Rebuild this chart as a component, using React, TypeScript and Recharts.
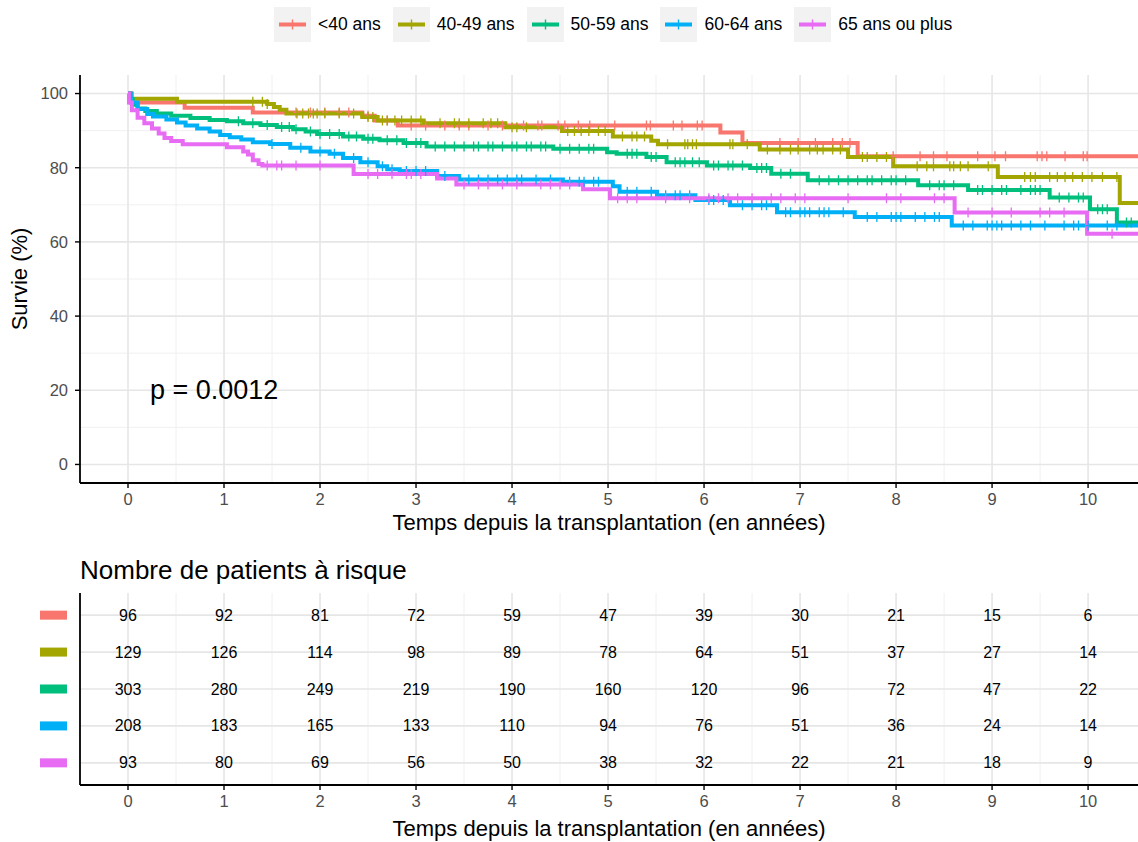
import React from 'react';
import { ComposedChart, Line, Scatter, XAxis, YAxis, ReferenceLine } from 'recharts';

const FONT = '"Liberation Sans", Arial, Helvetica, sans-serif';

const groups = ['<40 ans', '40-49 ans', '50-59 ans', '60-64 ans', '65 ans ou plus'];
const colors = ['#F8766D', '#A3A500', '#00BF7D', '#00B0F6', '#E76BF3'];

const X_MIN = -0.5;
const END_T = 10.52;

// Kaplan-Meier steps [time (years), survival %]
const stepsLt40: number[][] = [
  [0, 100], [0.04, 97.6], [0.59, 96.2], [1.3, 94.9], [2.44, 94], [2.57, 92.7], [2.81, 91.4],
  [6.17, 89.5], [6.4, 86.7], [7.6, 83.1],
];
const steps4049: number[][] = [
  [0, 100], [0.03, 98.6], [0.51, 97.8], [1.45, 97.2], [1.52, 96.4], [1.58, 95.6], [1.65, 94.6],
  [2.44, 93.7], [2.6, 92.7], [3.08, 92], [3.93, 90.9], [4.52, 89.9], [5.05, 88.4], [5.45, 87.3],
  [5.52, 86.3], [6.58, 84.9], [7.5, 82.9], [7.97, 80.4], [9.06, 77.5], [10.33, 70.5],
];
const steps5059: number[][] = [
  [0, 100], [0.02, 98.5], [0.05, 97], [0.1, 96], [0.18, 95.3], [0.3, 94.6], [0.45, 94], [0.65, 93.4],
  [0.85, 92.9], [1.03, 92.5], [1.2, 92], [1.38, 91.5], [1.55, 91], [1.72, 90.4], [1.85, 89.8],
  [1.97, 89.1], [2.24, 88.4], [2.45, 87.8], [2.62, 87.4], [2.87, 86.7], [3.11, 85.7], [4.43, 85.1],
  [4.99, 84.2], [5.09, 83.8], [5.4, 82.9], [5.61, 81.5], [6.03, 80.6], [6.48, 79.9], [6.7, 78.4],
  [7.08, 76.6], [8.23, 75.3], [8.75, 74], [9.6, 72], [10.02, 68.8], [10.3, 65.2],
];
const steps6064: number[][] = [
  [0, 100], [0.03, 97.6], [0.1, 95.8], [0.2, 94.5], [0.26, 93.8], [0.4, 93], [0.51, 92.2],
  [0.6, 91.4], [0.72, 90.6], [0.85, 89.8], [0.96, 88.8], [1.06, 88.2], [1.18, 87.6], [1.3, 86.9],
  [1.48, 86.4], [1.69, 85.4], [1.9, 84.4], [2.1, 83.8], [2.24, 82.6], [2.42, 81.5], [2.6, 80.4],
  [2.7, 79.6], [2.83, 79.1], [3.22, 77.8], [3.45, 76.8], [4.53, 76.2], [5.05, 75], [5.12, 73.5],
  [5.51, 72.6], [5.91, 71.3], [6.27, 69.9], [6.76, 68], [7.57, 66.7], [8.58, 64.4],
];
const steps65: number[][] = [
  [0, 100], [0.01, 97.6], [0.04, 95.5], [0.1, 93.5], [0.17, 92], [0.25, 90.6], [0.32, 89.2],
  [0.38, 88], [0.45, 87.2], [0.57, 86.3], [1.03, 85.5], [1.2, 84.4], [1.25, 83.6], [1.3, 82],
  [1.36, 81], [1.4, 80.6], [2.35, 78.3], [3.22, 77.1], [3.42, 75.5], [4.74, 74.2], [5.02, 71.8],
  [8.61, 67.9], [9.99, 62.2],
];

// censoring times (years)
const censorLt40 = [
  1.75, 1.9, 2.05, 2.2, 2.3, 2.5, 2.7, 2.95, 3.1, 3.3, 3.45, 3.55, 3.75, 3.9, 4.12, 4.27, 4.31, 4.48,
  4.55, 4.69, 4.81, 5.07, 5.4, 5.44, 5.68, 5.77, 5.93, 5.98, 6.79, 6.98, 7.16, 7.34, 7.44, 7.52, 7.97,
  8.25, 8.39, 8.53, 8.85, 9.03, 9.14, 9.47, 9.52, 9.57, 9.76, 9.95, 9.99,
];
const censor4049 = [
  1.3, 1.4, 1.45, 1.76, 1.82, 1.88, 1.93, 1.97, 2.05, 2.2, 2.35, 2.5, 2.55, 2.65, 2.7, 2.78, 2.85,
  2.95, 3.05, 3.25, 3.4, 3.45, 3.55, 3.7, 3.78, 3.85, 4.0, 4.05, 4.15, 4.58, 4.65, 4.72, 4.8, 4.9,
  4.97, 5.15, 5.25, 5.3, 5.38, 5.62, 5.8, 5.83, 5.88, 5.92, 6.27, 6.3, 6.45, 6.66, 6.79, 6.9, 6.98,
  7.1, 7.18, 7.24, 7.34, 7.42, 7.65, 7.7, 7.8, 7.9, 8.22, 8.32, 8.39, 8.56, 8.6, 8.67, 8.75, 8.96,
  9.34, 9.4, 9.45, 9.6, 9.68, 9.76, 9.84, 9.94, 10.04, 10.15, 10.3,
];
const censor5059 = [
  1.15, 1.3, 1.45, 1.6, 1.68, 1.75, 1.9, 2.0, 2.1, 2.2, 2.3, 2.38, 2.5, 2.55, 2.7, 2.8, 2.9, 3.0,
  3.05, 3.2, 3.3, 3.4, 3.5, 3.6, 3.65, 3.75, 3.8, 3.9, 4.0, 4.05, 4.15, 4.2, 4.3, 4.35, 4.5, 4.6,
  4.7, 4.8, 4.85, 5.2, 5.25, 5.3, 5.45, 5.5, 5.7, 5.75, 5.8, 5.88, 5.95, 6.1, 6.15, 6.25, 6.3, 6.4,
  6.55, 6.6, 6.65, 6.8, 6.9, 7.2, 7.3, 7.4, 7.5, 7.6, 7.7, 7.75, 7.85, 7.95, 8.0, 8.1, 8.35, 8.45,
  8.5, 8.6, 8.85, 8.9, 9.0, 9.1, 9.15, 9.3, 9.4, 9.45, 9.5, 9.7, 9.8, 9.9, 9.95, 10.1, 10.15, 10.2,
  10.4, 10.45,
];
const censor6064 = [
  1.5, 1.8, 2.0, 2.15, 2.35, 2.5, 2.65, 2.75, 2.9, 3.0, 3.1, 3.3, 3.55, 3.65, 3.75, 3.85, 3.95, 4.05,
  4.1, 4.25, 4.4, 4.6, 4.7, 4.75, 4.85, 4.9, 5.2, 5.3, 5.45, 5.6, 5.7, 5.75, 5.85, 6.05, 6.1, 6.2,
  6.4, 6.5, 6.6, 6.65, 6.85, 6.9, 7.0, 7.05, 7.1, 7.2, 7.25, 7.3, 7.45, 7.7, 7.8, 7.95, 8.0, 8.05,
  8.2, 8.3, 8.4, 8.45, 8.7, 8.8, 8.95, 9.0, 9.05, 9.1, 9.2, 9.3, 9.4, 9.55, 9.75, 9.85, 9.9, 10.0,
  10.2, 10.3,
];
const censor65 = [
  1.45, 1.55, 1.6, 1.75, 2.0, 2.5, 2.6, 2.75, 2.9, 2.95, 3.05, 3.5, 3.65, 3.75, 3.9, 4.05, 4.3, 4.4,
  4.5, 4.6, 5.1, 5.2, 5.3, 5.6, 5.85, 6.05, 6.15, 6.25, 6.35, 6.5, 6.7, 6.8, 6.95, 7.05, 7.5, 7.9,
  8.05, 8.4, 8.5, 8.75, 9.0, 9.2, 9.5, 9.6, 9.75, 10.25,
];

// numbers at risk
const riskTimes = [0, 1, 2, 3, 4, 5, 6, 7, 8, 9, 10];
const riskLt40 = [96, 92, 81, 72, 59, 47, 39, 30, 21, 15, 6];
const risk4049 = [129, 126, 114, 98, 89, 78, 64, 51, 37, 27, 14];
const risk5059 = [303, 280, 249, 219, 190, 160, 120, 96, 72, 47, 22];
const risk6064 = [208, 183, 165, 133, 110, 94, 76, 51, 36, 24, 14];
const risk65 = [93, 80, 69, 56, 50, 38, 32, 22, 21, 18, 9];

const xTicks = [0, 1, 2, 3, 4, 5, 6, 7, 8, 9, 10];
const xMinor = [0.5, 1.5, 2.5, 3.5, 4.5, 5.5, 6.5, 7.5, 8.5, 9.5];
const yTicks = [0, 20, 40, 60, 80, 100];
const yMinor = [10, 30, 50, 70, 90];
const riskRows = [1, 2, 3, 4, 5];

const allSteps = [stepsLt40, steps4049, steps5059, steps6064, steps65];
const allCensor = [censorLt40, censor4049, censor5059, censor6064, censor65];
const allRisk = [riskLt40, risk4049, risk5059, risk6064, risk65];

const survAt = (steps: number[][], t: number) => {
  let s = steps[0][1];
  for (const [tt, ss] of steps) {
    if (tt <= t) s = ss;
  }
  return s;
};

const lineData = allSteps.map((steps) => {
  const pts = steps.map(([t, s]) => ({ t, s }));
  pts.push({ t: END_T, s: steps[steps.length - 1][1] });
  return pts;
});
const censorData = allCensor.map((times, i) => times.map((t) => ({ t, s: survAt(allSteps[i], t) })));
const riskData = allRisk.map((vals, i) => riskTimes.map((t, j) => ({ t, row: 5 - i, n: vals[j] })));

const MAJOR = '#E6E6E6';
const MINOR = '#F0F0F0';
const TICK_STYLE = { fill: '#4D4D4D', fontSize: 16.5, fontFamily: FONT };

const makeCensor = (color: string) => (props: any) => {
  const { cx, cy } = props;
  if (cx == null || cy == null) return <g />;
  return (
    <path
      d={`M${cx},${cy - 5}V${cy + 5}M${cx - 2.5},${cy}H${cx + 2.5}`}
      stroke={color}
      strokeWidth={1.3}
      fill="none"
    />
  );
};

const riskText = (props: any) => {
  const { cx, cy, payload } = props;
  if (cx == null || cy == null) return <g />;
  return (
    <text x={cx} y={cy} textAnchor="middle" dominantBaseline="central" fontSize={16} fill="#000" fontFamily={FONT}>
      {payload.n}
    </text>
  );
};

const swatchTick = (props: any) => {
  const { y, payload } = props;
  const idx = 5 - payload.value;
  return <rect x={40} y={y - 4.5} width={27} height={9} fill={colors[idx]} />;
};

const yTitle = (props: any) => {
  const vb = props.viewBox || {};
  const cx = 19;
  const cy = (vb.y || 0) + (vb.height || 0) / 2;
  return (
    <text x={cx} y={cy} transform={`rotate(-90 ${cx} ${cy})`} textAnchor="middle" dominantBaseline="central" fontSize={22} fill="#000" fontFamily={FONT}>
      Survie (%)
    </text>
  );
};

const Legend = () => (
  <div style={{ position: 'absolute', left: 274, top: 7, display: 'flex', alignItems: 'center', fontFamily: FONT, fontSize: 17.5 }}>
    {groups.map((g, i) => (
      <div key={g} style={{ display: 'flex', alignItems: 'center', marginRight: 12 }}>
        <svg width={37} height={35} style={{ display: 'block' }}>
          <rect x={0} y={0} width={37} height={35} fill="#F2F2F2" />
          <line x1={5} x2={32} y1={17.5} y2={17.5} stroke={colors[i]} strokeWidth={4} />
          <line x1={18.5} x2={18.5} y1={12.5} y2={22.5} stroke={colors[i]} strokeWidth={1.4} />
        </svg>
        <span style={{ marginLeft: 7, color: '#000', whiteSpace: 'nowrap' }}>{g}</span>
      </div>
    ))}
  </div>
);

export default function App() {
  return (
    <div style={{ position: 'absolute', left: 0, top: 0, width: 1138, height: 842, background: '#fff', overflow: 'hidden', fontFamily: FONT }}>
      <Legend />
      <div style={{ position: 'absolute', left: 0, top: 0 }}>
        <ComposedChart width={1138} height={545} margin={{ top: 75, right: 0, bottom: 0, left: 0 }} style={{ fontFamily: FONT }}>
          <XAxis
            type="number"
            dataKey="t"
            domain={[X_MIN, END_T]}
            ticks={xTicks}
            allowDataOverflow
            height={62}
            tick={TICK_STYLE}
            tickSize={5}
            tickMargin={5}
            axisLine={{ stroke: '#000', strokeWidth: 1.8 }}
            tickLine={{ stroke: '#000', strokeWidth: 1.4 }}
            label={{ value: 'Temps depuis la transplantation (en années)', position: 'insideBottom', offset: 15, fontSize: 22, fill: '#000', fontFamily: FONT }}
          />
          <YAxis
            type="number"
            dataKey="s"
            domain={[-5, 105]}
            ticks={yTicks}
            allowDataOverflow
            width={80}
            tick={TICK_STYLE}
            tickSize={5}
            tickMargin={7}
            axisLine={{ stroke: '#000', strokeWidth: 1.8 }}
            tickLine={{ stroke: '#000', strokeWidth: 1.4 }}
            label={{ content: yTitle }}
          />
          {yMinor.map((v) => (
            <ReferenceLine key={'ym' + v} y={v} stroke={MINOR} strokeWidth={1} />
          ))}
          {xMinor.map((v) => (
            <ReferenceLine key={'xm' + v} x={v} stroke={MINOR} strokeWidth={1} />
          ))}
          {yTicks.map((v) => (
            <ReferenceLine key={'yM' + v} y={v} stroke={MAJOR} strokeWidth={1.6} />
          ))}
          {xTicks.map((v) => (
            <ReferenceLine key={'xM' + v} x={v} stroke={MAJOR} strokeWidth={1.6} />
          ))}
          {lineData.map((d, i) => (
            <Line
              key={'l' + i}
              data={d}
              dataKey="s"
              type="stepAfter"
              stroke={colors[i]}
              strokeWidth={4}
              dot={false}
              activeDot={false}
              isAnimationActive={false}
            />
          ))}
          {censorData.map((d, i) => (
            <Scatter key={'c' + i} data={d} dataKey="s" shape={makeCensor(colors[i])} isAnimationActive={false} />
          ))}
        </ComposedChart>
      </div>
      <div style={{ position: 'absolute', left: 150, top: 373, fontSize: 27, lineHeight: '34px', color: '#000', whiteSpace: 'nowrap' }}>
        p = 0.0012
      </div>
      <div style={{ position: 'absolute', left: 80, top: 554, fontSize: 26, lineHeight: '32px', color: '#000', whiteSpace: 'nowrap' }}>
        Nombre de patients à risque
      </div>
      <div style={{ position: 'absolute', left: 0, top: 560 }}>
        <ComposedChart width={1138} height={282} margin={{ top: 33, right: 0, bottom: 0, left: 0 }} style={{ fontFamily: FONT }}>
          <XAxis
            type="number"
            dataKey="t"
            domain={[X_MIN, END_T]}
            ticks={xTicks}
            allowDataOverflow
            height={57}
            tick={TICK_STYLE}
            tickSize={5}
            tickMargin={5}
            axisLine={{ stroke: '#000', strokeWidth: 1.8 }}
            tickLine={{ stroke: '#000', strokeWidth: 1.4 }}
            label={{ value: 'Temps depuis la transplantation (en années)', position: 'insideBottom', offset: 6, fontSize: 22, fill: '#000', fontFamily: FONT }}
          />
          <YAxis
            type="number"
            dataKey="row"
            domain={[0.4, 5.6]}
            ticks={riskRows}
            allowDataOverflow
            width={80}
            tick={swatchTick}
            tickLine={false}
            axisLine={{ stroke: '#000', strokeWidth: 1.8 }}
          />
          {xMinor.map((v) => (
            <ReferenceLine key={'rxm' + v} x={v} stroke={MINOR} strokeWidth={1} />
          ))}
          {xTicks.map((v) => (
            <ReferenceLine key={'rxM' + v} x={v} stroke={MAJOR} strokeWidth={1.6} />
          ))}
          {riskRows.map((v) => (
            <ReferenceLine key={'ry' + v} y={v} stroke={MAJOR} strokeWidth={1.6} />
          ))}
          {riskData.map((d, i) => (
            <Scatter key={'r' + i} data={d} dataKey="row" shape={riskText} isAnimationActive={false} />
          ))}
        </ComposedChart>
      </div>
    </div>
  );
}
